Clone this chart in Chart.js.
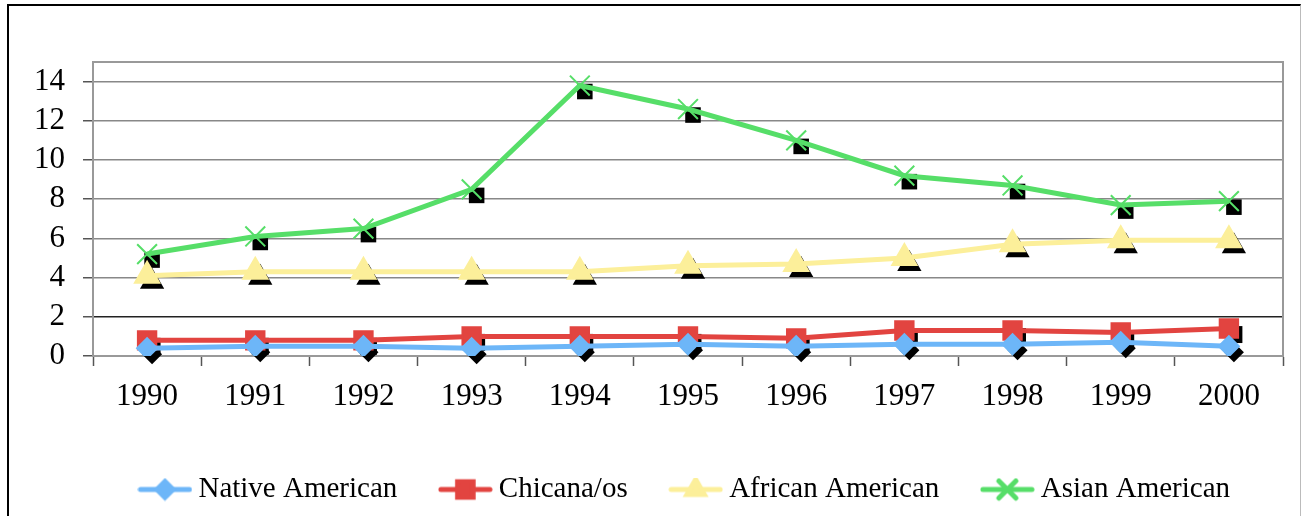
<!DOCTYPE html>
<html>
<head>
<meta charset="utf-8">
<script src="https://cdn.jsdelivr.net/npm/chart.js@4/dist/chart.umd.min.js"></script>
<style>
  html, body { margin: 0; padding: 0; background: #fff; overflow: hidden; }
  #wrap { position: relative; width: 1301px; height: 516px; }
  #frame {
    position: absolute; left: 7px; top: 4px; width: 1291px; height: 530px;
    border-left: 2px solid #000; border-top: 2px solid #000; border-right: 1px solid #bbb;
    pointer-events: none;
  }
</style>
</head>
<body>
<div id="wrap">
  <canvas id="ethnicChart" width="1301" height="516"></canvas>
  <div id="frame"></div>
</div>
<script>
const years = ['1990', '1991', '1992', '1993', '1994', '1995', '1996', '1997', '1998', '1999', '2000'];
const nativeAmerican = [0.4, 0.5, 0.5, 0.4, 0.5, 0.6, 0.5, 0.6, 0.6, 0.7, 0.5];
const chicanaos = [0.8, 0.8, 0.8, 1.0, 1.0, 1.0, 0.9, 1.3, 1.3, 1.2, 1.4];
const africanAmerican = [4.1, 4.3, 4.3, 4.3, 4.3, 4.6, 4.7, 5.0, 5.7, 5.9, 5.9];
const asianAmerican = [5.2, 6.1, 6.5, 8.5, 13.8, 12.6, 11.0, 9.2, 8.7, 7.7, 7.9];
const yTicks = [0, 2, 4, 6, 8, 10, 12, 14];

const serif = '"Liberation Serif", "Times New Roman", serif';

const series = [
  { label: 'Native American', data: nativeAmerican, color: '#6db6f8', style: 'rectRot', radius: 10, legendRadius: 8, shadow: 'rectRot', shadowRadius: 10 },
  { label: 'Chicana/os', data: chicanaos, color: '#e24440', style: 'rect', radius: 13, legendRadius: 11, shadow: 'rect', shadowRadius: 12 },
  { label: 'African American', data: africanAmerican, color: '#fcef9a', style: 'triangle', radius: 14, legendRadius: 10, shadow: 'triangle', shadowRadius: 14 },
  { label: 'Asian American', data: asianAmerican, color: '#56de68', style: 'crossRot', radius: 14, legendRadius: 12, shadow: 'rect', shadowRadius: 11 }
];

// small line + marker pictures for the legend
function legendIcon(s) {
  const c = document.createElement('canvas');
  c.width = 55; c.height = 24;
  const g = c.getContext('2d');
  g.strokeStyle = s.color; g.lineWidth = 5; g.lineCap = 'round';
  g.beginPath(); g.moveTo(3, 12); g.lineTo(52, 12); g.stroke();
  g.fillStyle = s.color;
  Chart.helpers.drawPoint(g, { pointStyle: s.style, radius: s.legendRadius, borderWidth: 2 }, 27.5, 12);
  return c;
}

const markerShadow = {
  id: 'markerShadow',
  beforeDatasetsDraw(chart) {
    const ctx = chart.ctx;
    const a = chart.chartArea;
    ctx.save();
    ctx.strokeStyle = '#999';
    ctx.lineWidth = 2;
    ctx.strokeRect(a.left, a.top, a.right - a.left, a.bottom - a.top);
    ctx.fillStyle = '#000';
    ctx.strokeStyle = '#000';
    chart.data.datasets.forEach((ds, i) => {
      chart.getDatasetMeta(i).data.forEach(pt => {
        Chart.helpers.drawPoint(ctx, { pointStyle: series[i].shadow, radius: series[i].shadowRadius, borderWidth: 0 }, pt.x + 5, pt.y + 6);
      });
    });
    ctx.restore();
  }
};

const ctx = document.getElementById('ethnicChart').getContext('2d');
const ethnicChart = new Chart(ctx, {
  type: 'line',
  data: {
    labels: years,
    datasets: series.map(s => ({
      label: s.label,
      data: s.data,
      borderColor: s.color,
      backgroundColor: s.color,
      borderWidth: 5,
      pointStyle: s.style,
      pointRadius: s.radius,
      pointHoverRadius: s.radius,
      pointBackgroundColor: s.color,
      pointBorderColor: s.color,
      pointBorderWidth: 2,
      fill: false,
      tension: 0
    }))
  },
  options: {
    responsive: false,
    animation: false,
    layout: { padding: { top: 62, right: 18, left: 0, bottom: 2 } },
    plugins: {
      tooltip: { enabled: false },
      legend: {
        position: 'bottom',
        fullSize: false,
        labels: {
          usePointStyle: true,
          pointStyleWidth: 38,
          padding: 49,
          color: '#000',
          font: { family: serif, size: 29 },
          generateLabels(chart) {
            const items = Chart.defaults.plugins.legend.labels.generateLabels(chart);
            items.forEach((it, i) => { it.pointStyle = legendIcon(series[i]); });
            return items;
          }
        }
      }
    },
    scales: {
      x: {
        offset: true,
        grid: { display: true, drawOnChartArea: false, drawTicks: true, tickLength: 10, tickColor: '#555', tickWidth: 1.5, offset: true },
        border: { color: '#666', width: 2 },
        ticks: { color: '#000', padding: 12, maxRotation: 0, autoSkip: false, font: { family: serif, size: 31 } },
        afterFit(scale) { scale.height = 70; }
      },
      y: {
        min: 0,
        max: 15,
        afterBuildTicks(scale) {
          scale.ticks = yTicks.map(v => ({ value: v })).concat([{ value: 15 }]);
        },
        grid: {
          color: c => (c.tick && c.tick.value === 2 ? '#222' : '#888'),
          lineWidth: 1.5,
          tickLength: 10,
          tickColor: c => (c.tick && c.tick.value === 15 ? 'rgba(0,0,0,0)' : '#555')
        },
        border: { color: '#888', width: 2 },
        ticks: {
          color: '#000',
          padding: 18,
          autoSkip: false,
          callback: v => (v === 15 ? '' : v),
          font: { family: serif, size: 31 }
        },
        afterFit(scale) { scale.width = 93; }
      }
    }
  },
  plugins: [markerShadow]
});
</script>
</body>
</html>
